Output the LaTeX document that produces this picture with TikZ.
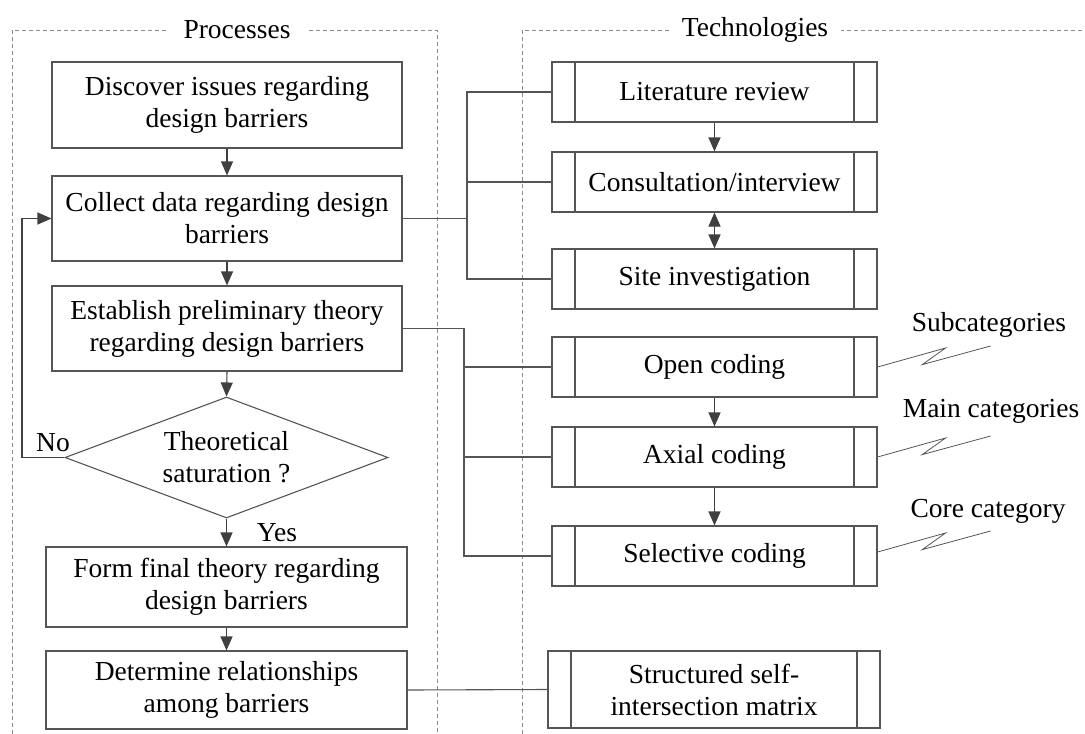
\documentclass[tikz,border=0pt]{standalone}
\usepackage{fontspec}
\setmainfont{Liberation Serif}
\usetikzlibrary{arrows.meta,shapes.geometric}
\definecolor{ln}{HTML}{555555}
\definecolor{ar}{HTML}{404040}
\definecolor{dsh}{HTML}{8C8C8C}
\begin{document}
\begin{tikzpicture}[x=1pt,y=-1pt,
  every node/.style={font=\fontsize{27.5}{32}\selectfont, text=black},
  lbox/.style={draw=ln, line width=1.1pt, align=center, inner sep=0pt},
  tbox/.style={draw=ln, line width=1.1pt, align=center, inner sep=0pt,
    minimum width=325pt, minimum height=60pt,
    path picture={
      \draw[ln, line width=1.1pt] ([xshift=23pt]path picture bounding box.north west) -- ([xshift=23pt]path picture bounding box.south west);
      \draw[ln, line width=1.1pt] ([xshift=-23pt]path picture bounding box.north east) -- ([xshift=-23pt]path picture bounding box.south east);}},
  dia/.style={draw=ln, line width=1.1pt, shape=diamond, align=center, inner sep=0pt,
    shape aspect=2.67, minimum width=323pt, minimum height=121pt},
  conn/.style={draw=ln, line width=1.1pt},
  zig/.style={draw=ln, line width=0.8pt},
  arr/.style={draw=ar, line width=1.1pt, -{Triangle[length=14pt,width=12pt]}},
  arrb/.style={draw=ar, line width=1.1pt, {Triangle[length=14pt,width=12pt]}-{Triangle[length=14pt,width=12pt]}},
  frame/.style={draw=dsh, line width=0.8pt, dash pattern=on 4pt off 3pt},
  ttl/.style={fill=white, inner ysep=2pt}
]
\useasboundingbox (0,0) rectangle (1085,734);
\clip (0,0) rectangle (1085,734);

% frames
\draw[frame] (12,734) -- (12,30) -- (437,30) -- (437,734);
\draw[frame] (522,734) -- (522,30) -- (1085,30);
\node[ttl, inner xsep=18pt] (tp) at (237,30) {Processes};
\node[ttl, inner xsep=13pt] (tt) at (755,30) {Technologies};

% left column
\node[lbox, minimum width=350pt, minimum height=86pt] (disc) at (227,105) {Discover issues regarding\\design barriers};
\node[lbox, minimum width=350pt, minimum height=85pt] (coll) at (227,218.5) {Collect data regarding design\\barriers};
\node[lbox, minimum width=350pt, minimum height=85pt] (estb) at (227,328.5) {Establish preliminary theory\\regarding design barriers};
\node[dia] (sat) at (226.5,457.5) {Theoretical\\saturation ?};
\node[lbox, minimum width=361pt, minimum height=80pt] (form) at (226.5,587) {Form final theory regarding\\design barriers};
\node[lbox, minimum width=361pt, minimum height=78pt] (det) at (226.5,690) {Determine relationships\\among barriers};

\node (no) at (53,443) {No};
\node (yes) at (277,533) {Yes};

\draw[arr] (disc.south) -- (coll.north);
\draw[arr] (coll.south) -- (estb.north);
\draw[arr] (estb.south) -- (sat.north);
\draw[arr] (sat.south) -- (form.north);
\draw[arr] (form.south) -- (det.north);

\coordinate (fb) at (22,0);
\draw[arr] (sat.west) -- (sat.west -| fb) -- (coll.west -| fb) -- (coll.west);

% right column
\node[tbox] (lit) at (714.5,92) {Literature review};
\node[tbox] (cons) at (714.5,182) {Consultation/interview};
\node[tbox] (site) at (714.5,279) {Site investigation};
\node[tbox] (open) at (714.5,367) {Open coding};
\node[tbox] (axial) at (714.5,457) {Axial coding};
\node[tbox] (sel) at (714.5,556) {Selective coding};
\node[tbox, minimum width=332pt, minimum height=77pt] (smat) at (714,689.5) {Structured self-\\intersection matrix};

\draw[arr] (lit.south) -- (cons.north);
\draw[arrb] (cons.south) -- (site.north);
\draw[arr] (open.south) -- (axial.north);
\draw[arr] (axial.south) -- (sel.north);

% buses
\coordinate (bA) at (467,0);
\draw[conn] (coll.east) -- (coll.east -| bA);
\draw[conn] (lit.west) -- (lit.west -| bA) -- (site.west -| bA) -- (site.west);
\draw[conn] (cons.west) -- (cons.west -| bA);

\coordinate (bB) at (464,0);
\draw[conn] (estb.east) -- (estb.east -| bB) -- (sel.west -| bB) -- (sel.west);
\draw[conn] (open.west) -- (open.west -| bB);
\draw[conn] (axial.west) -- (axial.west -| bB);

\draw[conn] (det.east) -- (smat.west);

% annotations
\draw[zig] (open.east) -- ++(68,-19) -- ++(-23.3,16.6) -- ++(68.3,-18.6);
\draw[zig] (axial.east) -- ++(68,-19) -- ++(-23.3,16.6) -- ++(68.3,-18.6);
\draw[zig] ([yshift=4pt]sel.east) -- ++(68,-19) -- ++(-23.3,16.6) -- ++(68.3,-18.6);
\node (lsub) at (989,325) {Subcategories};
\node (lmain) at (991,411) {Main categories};
\node (lcore) at (988,511) {Core category};
\end{tikzpicture}
\end{document}
